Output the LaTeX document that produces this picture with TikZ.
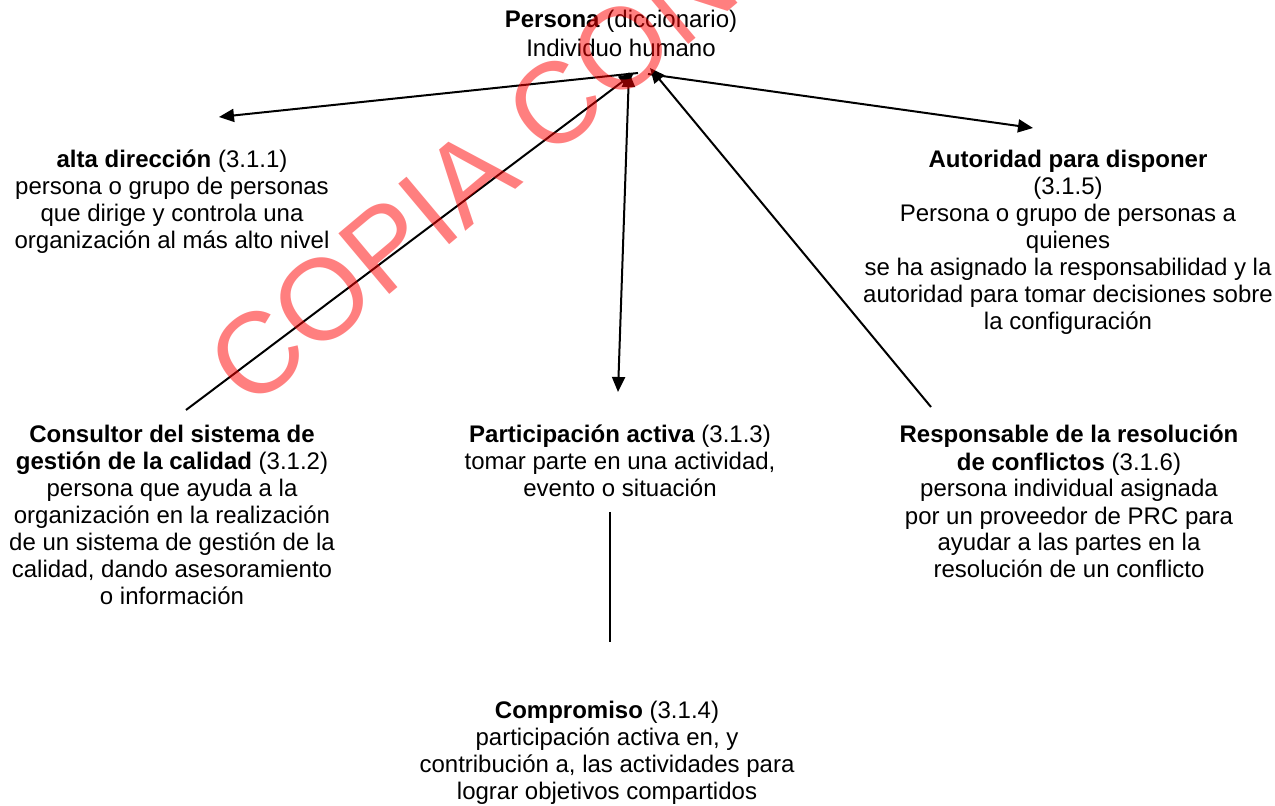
\documentclass[tikz,border=0pt]{standalone}
\usepackage{fontspec}
\setmainfont{Liberation Sans}
\usetikzlibrary{arrows.meta}

\tikzset{
  concepto/.style={align=center, inner sep=0pt, anchor=north, font=\fontsize{12}{13.5}\selectfont},
  flecha/.style={-{Triangle[length=7.5pt,width=6.5pt]}, line width=1pt},
  flechas/.style={{Triangle[length=7.5pt,width=6.5pt]}-{Triangle[length=7.5pt,width=6.5pt]}, line width=1pt},
}

\begin{document}
\begin{tikzpicture}[x=0.5pt,y=-0.5pt]
    \useasboundingbox (0,0) rectangle (1275,806);
    \node[concepto] (persona) at (621,10) {\textbf{Persona} (diccionario)\\[1pt]Individuo humano};
    \node[concepto] (alta) at (172,150) {\textbf{alta dirección} (3.1.1)\\persona o grupo de personas\\que dirige y controla una\\organización al más alto nivel};
    \node[concepto] (autoridad) at (1068,150) {\textbf{Autoridad para disponer}\\(3.1.5)\\Persona o grupo de personas a\\quienes\\se ha asignado la responsabilidad y la\\autoridad para tomar decisiones sobre\\la configuración};
    \node[concepto] (consultor) at (172,425) {\textbf{Consultor del sistema de}\\\textbf{gestión de la calidad} (3.1.2)\\persona que ayuda a la\\organización en la realización\\de un sistema de gestión de la\\calidad, dando asesoramiento\\o información};
    \node[concepto] (participacion) at (620,425) {\textbf{Participación activa} (3.1.3)\\tomar parte en una actividad,\\evento o situación};
    \node[concepto] (responsable) at (1069,425) {\textbf{Responsable de la resolución}\\\textbf{de conflictos} (3.1.6)\\persona individual asignada\\por un proveedor de PRC para\\ayudar a las partes en la\\resolución de un conflicto};
    \node[concepto] (compromiso) at (607,701) {\textbf{Compromiso} (3.1.4)\\participación activa en, y\\contribución a, las actividades para\\lograr objetivos compartidos};

    \coordinate (hubI) at (638,73);
    \coordinate (hubD) at (648,74);
    \coordinate (hubC) at (634,73);
    \coordinate (hubP) at (629,72);
    \coordinate (hubR) at (650,68);
    \coordinate (altaT) at (219,117);
    \coordinate (autoridadT) at (1033,128);
    \coordinate (consultorT) at (186,410);
    \coordinate (participacionT) at (618,392);
    \coordinate (responsableT) at (931,407);
    \coordinate (participacionB) at (610,512);
    \coordinate (compromisoT) at (610,642);

    \draw[flecha] (hubI) -- (altaT);
    \draw[flecha] (hubD) -- (autoridadT);
    \draw[flecha] (consultorT) -- (hubC);
    \draw[flechas] (participacionT) -- (hubP);
    \draw[flecha] (responsableT) -- (hubR);
    \draw[line width=1pt] (participacionB) -- (compromisoT);

    \begin{scope}
        \clip (0,0) rectangle (1275,806);
        \node[rotate=40, anchor=base west, inner sep=0pt, text=red, opacity=0.5, font=\fontsize{57.5}{58}\selectfont] (marca) at (250,412) {COPIA CON};
    \end{scope}
\end{tikzpicture}
\end{document}
